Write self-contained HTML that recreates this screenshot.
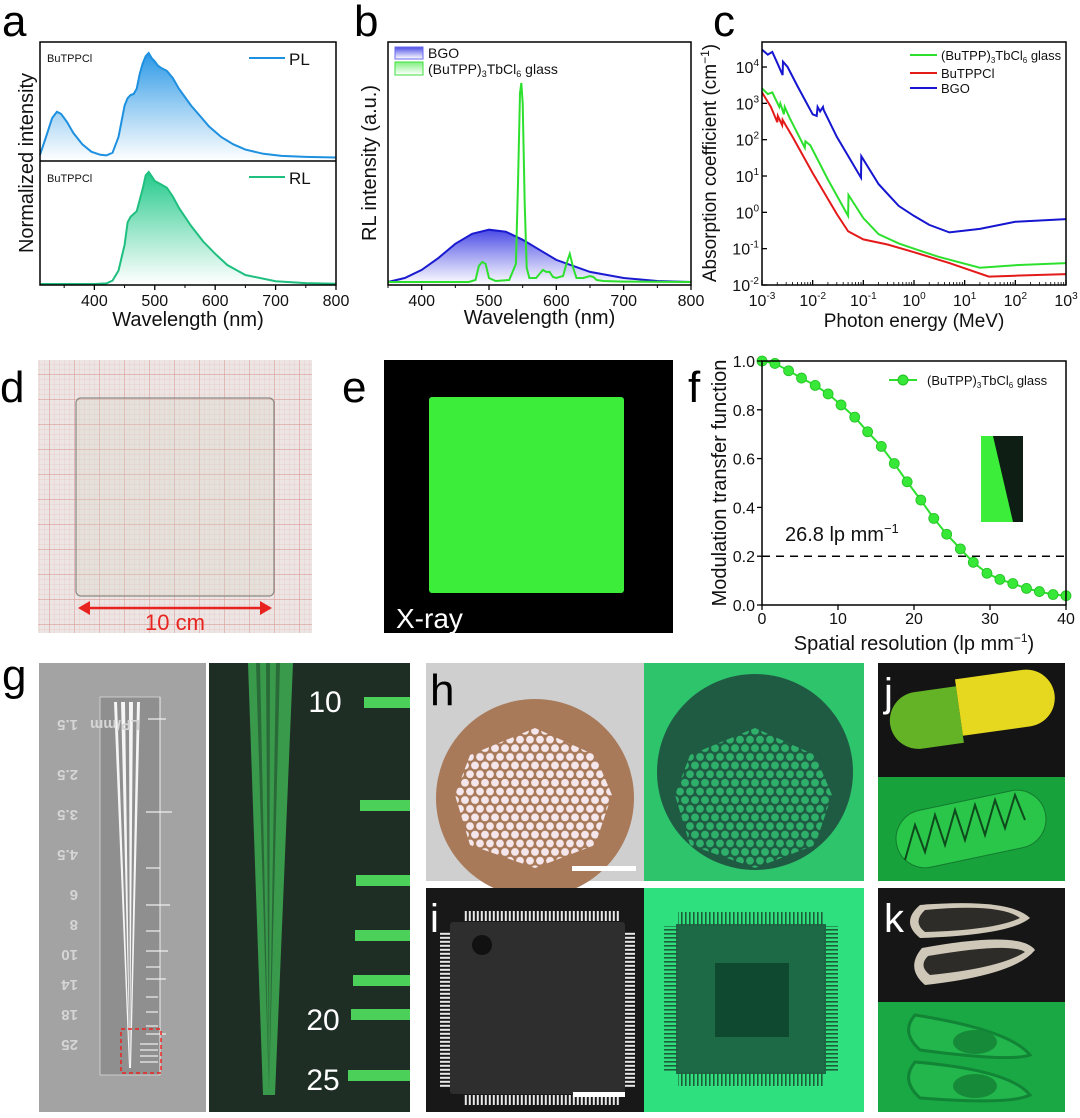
<!DOCTYPE html>
<html><head><meta charset="utf-8"><style>
html,body{margin:0;padding:0;background:#fff;}
svg{display:block;font-family:"Liberation Sans",Arial,sans-serif;}
</style></head><body>
<svg id="fig" width="1080" height="1118" viewBox="0 0 1080 1118" xmlns="http://www.w3.org/2000/svg">
<defs>
<linearGradient id="gBlue" x1="0" y1="0" x2="0" y2="1"><stop offset="0" stop-color="#2a98e6"/><stop offset="1" stop-color="#ffffff" stop-opacity="0.9"/></linearGradient>
<linearGradient id="gTeal" x1="0" y1="0" x2="0" y2="1"><stop offset="0" stop-color="#22c98a"/><stop offset="1" stop-color="#ffffff" stop-opacity="0.9"/></linearGradient>
<linearGradient id="gBGO" x1="0" y1="0" x2="0" y2="1"><stop offset="0" stop-color="#4a4ae6"/><stop offset="1" stop-color="#ffffff" stop-opacity="0.9"/></linearGradient>
<linearGradient id="gGlass" x1="0" y1="0" x2="0" y2="1"><stop offset="0" stop-color="#7ff07f"/><stop offset="1" stop-color="#ffffff" stop-opacity="0.9"/></linearGradient>
<pattern id="grid1" width="5" height="5" patternUnits="userSpaceOnUse"><path d="M5 0V5M0 5H5" stroke="#e3b8b8" stroke-width="0.5" fill="none"/></pattern>
<pattern id="grid2" width="25" height="25" patternUnits="userSpaceOnUse"><path d="M25 0V25M0 25H25" stroke="#d88a8a" stroke-width="0.9" fill="none"/></pattern>
<pattern id="holesW" width="10" height="17.3" patternUnits="userSpaceOnUse"><circle cx="5" cy="4.3" r="3.9" fill="#f4e6ea"/><circle cx="0" cy="13" r="3.9" fill="#f4e6ea"/><circle cx="10" cy="13" r="3.9" fill="#f4e6ea"/></pattern>
<pattern id="holesG" width="10" height="17.3" patternUnits="userSpaceOnUse"><circle cx="5" cy="4.3" r="3.9" fill="#2fb06a"/><circle cx="0" cy="13" r="3.9" fill="#2fb06a"/><circle cx="10" cy="13" r="3.9" fill="#2fb06a"/></pattern>
<pattern id="pinsH" width="4" height="10" patternUnits="userSpaceOnUse"><rect x="0.8" y="0" width="2" height="10" fill="#e8e8e8"/></pattern>
<pattern id="pinsV" width="10" height="4" patternUnits="userSpaceOnUse"><rect x="0" y="0.8" width="10" height="2" fill="#e8e8e8"/></pattern>
<pattern id="pinsHd" width="4" height="14" patternUnits="userSpaceOnUse"><rect x="1" y="0" width="1.6" height="14" fill="#1f5a3a"/></pattern>
<pattern id="pinsVd" width="14" height="4" patternUnits="userSpaceOnUse"><rect x="0" y="1" width="14" height="1.6" fill="#1f5a3a"/></pattern>
<clipPath id="clipHex"><polygon points="535,728 595,755 612,795 595,845 535,868 470,845 455,795 470,755"/></clipPath>
<clipPath id="clipHex2"><polygon points="755,728 815,755 832,795 815,845 755,868 690,845 675,795 690,755"/></clipPath>
</defs>

<!-- Panel letters -->
<text x="2" y="36" font-size="44">a</text>
<text x="354" y="36" font-size="44">b</text>
<text x="713" y="36" font-size="44">c</text>
<text x="0" y="402" font-size="44">d</text>
<text x="342" y="402" font-size="44">e</text>
<text x="688" y="402" font-size="44">f</text>
<text x="2" y="690" font-size="44">g</text>

<!-- Panel d: photo on graph paper -->
<g>
<rect x="38" y="360" width="274" height="273" fill="#ece5e3"/>
<rect x="38" y="360" width="274" height="273" fill="url(#grid1)"/>
<rect x="38" y="360" width="274" height="273" fill="url(#grid2)"/>
<rect x="76" y="398" width="198" height="198" rx="5" fill="#d8d3c8" fill-opacity="0.3" stroke="#8a8a85" stroke-width="1.2"/>
<line x1="84" y1="608" x2="266" y2="608" stroke="#e8231f" stroke-width="2.5"/>
<polygon points="78,608 90,601 90,615" fill="#e8231f"/>
<polygon points="272,608 260,601 260,615" fill="#e8231f"/>
<text x="175" y="630" font-size="22" fill="#e8231f" text-anchor="middle">10 cm</text>
</g>

<!-- Panel e -->
<g>
<rect x="384" y="360" width="289" height="273" fill="#000"/>
<rect x="429" y="397" width="195" height="196" rx="3" fill="#3cee3a"/>
<text x="396" y="628" font-size="28" fill="#fff">X-ray</text>
</g>

<!-- Panel g -->
<g>
<rect x="39" y="663" width="167" height="449" fill="#a3a3a3"/>
<rect x="100" y="697" width="60" height="378" fill="#8f8f8f" stroke="#d8d8d8" stroke-width="0.8"/>
<polygon points="114,702 140,702 131,1068 129,1068" fill="#f5f5f5"/>
<polygon points="117,702 121,702 130,1068" fill="#8f8f8f"/>
<polygon points="125,702 129,702 130,1068" fill="#8f8f8f"/>
<polygon points="133,702 137,702 130,1068" fill="#8f8f8f"/>
<line x1="160" y1="697" x2="160" y2="1075" stroke="#eee" stroke-width="1"/>
<g stroke="#eee" stroke-width="1.2">
<line x1="148" y1="719" x2="166" y2="719"/><line x1="146" y1="812" x2="172" y2="812"/><line x1="146" y1="868" x2="160" y2="868"/>
<line x1="146" y1="905" x2="170" y2="905"/><line x1="146" y1="931" x2="160" y2="931"/><line x1="146" y1="951" x2="168" y2="951"/>
<line x1="146" y1="967" x2="160" y2="967"/><line x1="146" y1="979" x2="166" y2="979"/><line x1="146" y1="997" x2="158" y2="997"/>
<line x1="146" y1="1012" x2="158" y2="1012"/><line x1="146" y1="1026" x2="158" y2="1026"/><line x1="146" y1="1034" x2="166" y2="1034"/>
<line x1="140" y1="1044" x2="158" y2="1044"/><line x1="140" y1="1050" x2="158" y2="1050"/><line x1="140" y1="1056" x2="158" y2="1056"/><line x1="140" y1="1062" x2="158" y2="1062"/>
</g>
<rect x="121" y="1029" width="40" height="44" fill="none" stroke="#e8231f" stroke-width="1.5" stroke-dasharray="4,3"/>
<g fill="#d5d5d5" font-size="15" font-weight="bold" transform="rotate(180 70 885)">
<text x="62" y="1050">1.5</text><text x="62" y="1000">2.5</text><text x="62" y="960">3.5</text><text x="62" y="920">4.5</text>
<text x="62" y="880">6</text><text x="62" y="850">8</text><text x="62" y="820">10</text><text x="62" y="790">14</text><text x="62" y="760">18</text><text x="62" y="730">25</text>
<text x="0" y="1050">LP/mm</text>
</g>
</g>
<g>
<rect x="209" y="663" width="201" height="449" fill="#1e2e24"/>
<polygon points="248,663 293,663 275,1095 263,1095" fill="#3a9a4c"/>
<polygon points="256,663 260,663 269,1095" fill="#2a6a38"/>
<polygon points="266,663 270,663 269,1095" fill="#2a6a38"/>
<polygon points="276,663 280,663 269,1095" fill="#2a6a38"/>
<g fill="#4bd05a">
<rect x="364" y="697" width="46" height="11"/><rect x="360" y="800" width="50" height="11"/><rect x="356" y="875" width="54" height="11"/>
<rect x="355" y="930" width="55" height="11"/><rect x="353" y="975" width="57" height="11"/><rect x="351" y="1009" width="59" height="11"/><rect x="348" y="1070" width="62" height="11"/>
</g>
<g fill="#fff" font-size="30" text-anchor="middle">
<text x="325" y="712">10</text><text x="323" y="1030">20</text><text x="323" y="1090">25</text>
</g>
</g>

<!-- Panel h -->
<g>
<rect x="426" y="663" width="218" height="218" fill="#cfcfcf"/>
<circle cx="535" cy="798" r="99" fill="#a87a5a"/>
<rect x="425" y="699" width="220" height="200" fill="url(#holesW)" clip-path="url(#clipHex)"/>
<rect x="572" y="866" width="64" height="5" fill="#fff"/>
<text x="430" y="705" font-size="44">h</text>
</g>
<g>
<rect x="644" y="663" width="220" height="218" fill="#2ec46c"/>
<ellipse cx="755" cy="772" rx="98" ry="98" fill="#1f5b43"/>
<rect x="645" y="699" width="220" height="200" fill="url(#holesG)" clip-path="url(#clipHex2)"/>
</g>

<!-- Panel i -->
<g>
<rect x="426" y="888" width="218" height="224" fill="#181818"/>
<rect x="450" y="922" width="175" height="172" rx="3" fill="#2e2e2e"/>
<rect x="464" y="911" width="156" height="10" fill="url(#pinsH)"/>
<rect x="464" y="1095" width="156" height="10" fill="url(#pinsH)"/>
<rect x="440" y="931" width="10" height="156" fill="url(#pinsV)"/>
<rect x="625" y="931" width="10" height="156" fill="url(#pinsV)"/>
<circle cx="482" cy="945" r="10" fill="#111"/>
<rect x="573" y="1092" width="52" height="5" fill="#fff"/>
<text x="430" y="932" font-size="40" fill="#fff">i</text>
</g>
<g>
<rect x="644" y="888" width="220" height="224" fill="#2ee07e"/>
<rect x="676" y="924" width="150" height="150" fill="#1d6a47"/>
<rect x="678" y="912" width="146" height="14" fill="url(#pinsHd)"/>
<rect x="678" y="1072" width="146" height="14" fill="url(#pinsHd)"/>
<rect x="664" y="926" width="14" height="146" fill="url(#pinsVd)"/>
<rect x="824" y="926" width="14" height="146" fill="url(#pinsVd)"/>
<rect x="715" y="963" width="74" height="74" fill="#0f4a30"/>
</g>

<!-- Panel j -->
<g>
<rect x="878" y="663" width="187" height="114" fill="#141414"/>
<path d="M918,686 H960 V743 H918 A28.5,28.5 0 0 1 918,686 Z" transform="rotate(-8 960 715)" fill="#64b226"/>
<path d="M960,679 H1028 A28.5,28.5 0 0 1 1028,736 H960 Z" transform="rotate(-8 960 715)" fill="#e6d81e"/>
<text x="884" y="706" font-size="40" fill="#fff">j</text>
</g>
<g>
<rect x="878" y="777" width="187" height="104" fill="#17a23c"/>
<rect x="895" y="800" width="152" height="58" rx="29" transform="rotate(-12 971 829)" fill="#2ac64a" stroke="#137a2e"/>
<polyline points="905,860 915,825 925,852 935,815 945,845 955,810 965,840 975,805 985,835 995,800 1005,828 1015,795 1025,820" fill="none" stroke="#0e4a1c" stroke-width="2"/>
</g>

<!-- Panel k -->
<g>
<rect x="878" y="888" width="187" height="114" fill="#161616"/>
<path d="M920,905 Q1010,898 1030,918 Q1010,935 920,938 Q900,922 920,905 Z" fill="#cfc8b8"/>
<path d="M925,910 Q1000,903 1020,918 Q995,930 925,932 Q912,922 925,910 Z" fill="#2e2c28"/>
<path d="M922,948 Q1020,930 1035,950 Q1015,975 925,985 Q905,968 922,948 Z" fill="#cfc8b8"/>
<path d="M928,956 Q1010,942 1025,952 Q1000,968 930,975 Q918,966 928,956 Z" fill="#2e2c28"/>
<text x="884" y="932" font-size="40" fill="#fff">k</text>
</g>
<g>
<rect x="878" y="1002" width="187" height="110" fill="#1aa844"/>
<path d="M915,1015 Q1010,1030 1030,1055 Q1010,1062 920,1050 Q900,1032 915,1015 Z" fill="#22b64c" stroke="#128436" stroke-width="3"/>
<path d="M915,1062 Q1010,1070 1030,1095 Q1010,1105 920,1098 Q900,1080 915,1062 Z" fill="#22b64c" stroke="#128436" stroke-width="3"/>
<ellipse cx="975" cy="1042" rx="22" ry="12" fill="#168a38"/>
<ellipse cx="975" cy="1086" rx="22" ry="12" fill="#168a38"/>
</g>

<g id="charts"></g>
</svg>
<script>
// ---- Panel a data ----
const plWl  = [310,320,330,338,345,355,365,380,395,410,420,430,440,450,455,460,465,470,475,480,485,490,495,500,505,510,520,530,540,550,560,575,590,610,630,650,680,710,750,800];
const plVal = [0.03,0.2,0.38,0.44,0.42,0.34,0.24,0.13,0.06,0.03,0.025,0.05,0.2,0.5,0.57,0.6,0.61,0.66,0.8,0.9,0.97,1.0,0.95,0.92,0.88,0.86,0.83,0.76,0.66,0.58,0.5,0.4,0.3,0.2,0.13,0.08,0.04,0.02,0.01,0.005];
const rlWl  = [310,400,420,430,440,450,455,460,470,480,485,490,495,500,510,520,530,540,560,580,600,620,650,700,750,800];
const rlVal = [0,0,0.005,0.03,0.12,0.35,0.55,0.6,0.65,0.85,0.97,1.0,0.96,0.92,0.89,0.86,0.78,0.68,0.52,0.38,0.27,0.17,0.08,0.025,0.008,0.003];
const aTicks = [400,500,600,700,800];
// ---- Panel b data ----
const bgoWl  = [350,375,400,425,450,475,500,525,550,575,600,650,700,750,800];
const bgoVal = [0.01,0.03,0.07,0.13,0.2,0.25,0.27,0.26,0.22,0.17,0.12,0.06,0.03,0.015,0.01];
const glassWl  = [350,470,480,485,490,495,500,510,530,540,543,546,548,550,553,556,560,570,580,585,590,595,600,610,615,620,625,630,640,650,655,660,670,700,800];
const glassVal = [0.01,0.01,0.02,0.09,0.11,0.1,0.03,0.015,0.02,0.1,0.5,0.95,1.0,0.9,0.4,0.08,0.03,0.03,0.07,0.06,0.06,0.035,0.03,0.04,0.1,0.15,0.08,0.03,0.03,0.04,0.035,0.02,0.015,0.012,0.01];
const bTicks = [400,500,600,700,800];
// ---- Panel c data (MeV, cm^-1) ----
const bgoE = [1e-3,1.3e-3,1.6e-3,2.0e-3,2.55e-3,2.6e-3,3.2e-3,5e-3,1.0e-2,1.2e-2,1.25e-2,1.4e-2,1.6e-2,1.65e-2,3e-2,9.0e-2,9.1e-2,0.2,0.5,1,2,5,20,100,1000];
const bgoA = [3e4,2.2e4,2.6e4,1.3e4,6e3,1.4e4,1e4,3e3,5e2,4.5e2,8e2,6e2,8e2,6.5e2,1.2e2,9,35,6,1.5,0.8,0.45,0.28,0.35,0.55,0.65];
const glE = [1e-3,1.3e-3,1.6e-3,2.2e-3,2.3e-3,2.7e-3,2.8e-3,3.5e-3,7e-3,7.2e-3,9e-3,2e-2,5e-2,5.1e-2,0.1,0.2,0.5,1,3,20,100,1000];
const glA = [2.6e3,1.8e3,2e3,8e2,1e3,5e2,8e2,4e2,6e1,9e1,7e1,8,0.8,3,0.7,0.25,0.14,0.1,0.06,0.03,0.035,0.04];
const buE = [1e-3,1.5e-3,2.0e-3,2.05e-3,2.5e-3,2.55e-3,4e-3,1e-2,3e-2,5e-2,0.1,0.3,1,5,30,100,1000];
const buA = [2e3,8e2,3e2,4.5e2,2.5e2,3.5e2,1.2e2,1.2e1,0.9,0.3,0.18,0.13,0.08,0.04,0.017,0.018,0.02];
const cXTicks = [-3,-2,-1,0,1,2,3];
const cYTicks = [-2,-1,0,1,2,3,4];
// ---- Panel f data ----
const mtfX = [0,1.7,3.5,5.2,7.0,8.7,10.4,12.2,13.9,15.7,17.4,19.1,20.9,22.6,24.3,26.1,27.8,29.6,31.3,33.0,34.8,36.5,38.3,40];
const mtfY = [1.0,0.99,0.96,0.93,0.90,0.865,0.82,0.77,0.71,0.65,0.58,0.505,0.43,0.355,0.29,0.23,0.175,0.13,0.105,0.088,0.068,0.055,0.043,0.038];
const fXTicks = [0,10,20,30,40];
const fYTicks = [0,0.2,0.4,0.6,0.8,1.0];

const NS = "http://www.w3.org/2000/svg";
const root = document.getElementById('charts');
function mk(tag, attrs, parent){const e=document.createElementNS(NS,tag);for(const k in attrs)e.setAttribute(k,attrs[k]);(parent||root).appendChild(e);return e;}
function txt(s,x,y,size,anchor,parent){const t=mk('text',{x:x,y:y,'font-size':size,'text-anchor':anchor||'middle',fill:'#111'},parent);t.textContent=s;return t;}
function pathD(xs,ys,fx,fy){return xs.map((v,i)=>(i?'L':'M')+fx(v).toFixed(1)+','+fy(ys[i]).toFixed(1)).join('');}

// ===== Panel a =====
(function(){
  const L=40,R=336,T=42,B=285,M=161;
  const x=w=>L+(w-310)/(800-310)*(R-L);
  const yPL=v=>158-v*105, yRL=v=>284-v*112;
  const g=mk('g',{});
  
  
  const f1=mk('path',{d:pathD(plWl,plVal,x,yPL)+'L'+x(800)+','+M+'L'+x(310)+','+M+'Z',fill:'url(#gBlue)'},g);
  
  
  const l1=mk('path',{d:pathD(plWl,plVal,x,yPL),fill:'none',stroke:'#1e90e0','stroke-width':2},g);
  
  
  const f2=mk('path',{d:pathD(rlWl,rlVal,x,yRL)+'L'+x(800)+','+B+'L'+x(310)+','+B+'Z',fill:'url(#gTeal)'},g);
  
  
  const l2=mk('path',{d:pathD(rlWl,rlVal,x,yRL),fill:'none',stroke:'#1fbf80','stroke-width':2},g);
  
  
  mk('rect',{x:L,y:T,width:R-L,height:B-T,fill:'none',stroke:'#000','stroke-width':1.5},g);
  mk('line',{x1:L,y1:M,x2:R,y2:M,stroke:'#000','stroke-width':1.5},g);
  aTicks.forEach(t=>{mk('line',{x1:x(t),y1:B,x2:x(t),y2:B+5,stroke:'#000','stroke-width':1.3},g);
    const tl=txt(String(t),x(t),306,16,'middle',g);
    
    });
  [350,450,550,650,750].forEach(t=>mk('line',{x1:x(t),y1:B,x2:x(t),y2:B+3,stroke:'#000'},g));
  const xt=txt('Wavelength (nm)',(L+R)/2,326,20,'middle',g);
  
  
  const yt=txt('Normalized intensity',0,0,20,'middle',g);
  yt.setAttribute('transform','translate(33,163) rotate(-90)');
  
  
  txt('BuTPPCl',47,62,11,'start',g);
  txt('BuTPPCl',47,182,11,'start',g);
  mk('line',{x1:249,y1:58,x2:285,y2:58,stroke:'#1e90e0','stroke-width':2},g);
  const p=txt('PL',289,65,17,'start',g);
  
  
  mk('line',{x1:249,y1:177,x2:285,y2:177,stroke:'#1fbf80','stroke-width':2},g);
  const r=txt('RL',289,184,17,'start',g);
  
  
})();

// ===== Panel b =====
(function(){
  const L=388,R=691,T=42,B=285;
  const x=w=>L+(w-350)/(800-350)*(R-L);
  const y=v=>284-v*201;
  const g=mk('g',{});
  
  
  const f=mk('path',{d:pathD(bgoWl,bgoVal,x,y)+'L'+x(800)+','+B+'L'+x(350)+','+B+'Z',fill:'url(#gBGO)'},g);
  
  
  const lb=mk('path',{d:pathD(bgoWl,bgoVal,x,y),fill:'none',stroke:'#1a1ad0','stroke-width':2},g);
  
  
  const lg=mk('path',{d:pathD(glassWl,glassVal,x,y),fill:'none',stroke:'#2ee02e','stroke-width':2},g);
  
  
  mk('rect',{x:L,y:T,width:R-L,height:B-T,fill:'none',stroke:'#000','stroke-width':1.5},g);
  bTicks.forEach(t=>{mk('line',{x1:x(t),y1:B,x2:x(t),y2:B+5,stroke:'#000','stroke-width':1.3},g);
    const tl=txt(String(t),x(t),306,16,'middle',g);
    
    });
  [350,450,550,650,750].forEach(t=>mk('line',{x1:x(t),y1:B,x2:x(t),y2:B+3,stroke:'#000'},g));
  const xt=txt('Wavelength (nm)',(L+R)/2,324,20,'middle',g);
  
  
  const yt=txt('RL intensity (a.u.)',0,0,20,'middle',g);
  yt.setAttribute('transform','translate(376,163) rotate(-90)');
  
  
  mk('rect',{x:395,y:47,width:28,height:12,fill:'url(#gBGO)',stroke:'#6a6aee'},g);
  mk('rect',{x:395,y:62,width:28,height:13,fill:'url(#gGlass)',stroke:'#3ee03e'},g);
  const e1=txt('BGO',428,58,14,'start',g);
  
  
  const e2=mk('text',{x:428,y:74,'font-size':14,fill:'#111'},g);
  
  
  e2.innerHTML='(BuTPP)<tspan font-size="9" dy="3">3</tspan><tspan dy="-3">TbCl</tspan><tspan font-size="9" dy="3">6</tspan><tspan dy="-3"> glass</tspan>';
})();

// ===== Panel c =====
(function(){
  const L=762,R=1066,T=42,B=285;
  const x=e=>L+(Math.log10(e)+3)/6*(R-L);
  const y=a=>285-(Math.log10(a)+2)*36.33;
  const xl=l=>L+(l+3)/6*(R-L), yl=l=>285-(l+2)*36.33;
  const g=mk('g',{});
  
  
  [[bgoE,bgoA,'#1616d0','bgo-absorption-line'],[glE,glA,'#2ee02e','glass-absorption-line'],[buE,buA,'#e41a1a','butppcl-absorption-line']].forEach(s=>{
    const p=mk('path',{d:pathD(s[0],s[1],x,y),fill:'none',stroke:s[2],'stroke-width':2},g);
    
    
  });
  mk('rect',{x:L,y:T,width:R-L,height:B-T,fill:'none',stroke:'#000','stroke-width':1.5},g);
  cXTicks.forEach(l=>{mk('line',{x1:xl(l),y1:B,x2:xl(l),y2:B-5,stroke:'#000','stroke-width':1.3},g);
    for(let k=2;k<10&&l<3;k++){const xx=xl(l+Math.log10(k));mk('line',{x1:xx,y1:B,x2:xx,y2:B-3,stroke:'#000','stroke-width':0.8},g);}
    const t=mk('text',{x:xl(l),y:306,'font-size':16,'text-anchor':'middle',fill:'#111'},g);
    
    
    t.innerHTML='10<tspan font-size="10" dy="-7">'+l+'</tspan>';});
  cYTicks.forEach(l=>{mk('line',{x1:L,y1:yl(l),x2:L+5,y2:yl(l),stroke:'#000','stroke-width':1.3},g);
    const t=mk('text',{x:L-3,y:yl(l)+6,'font-size':16,'text-anchor':'end',fill:'#111'},g);
    
    
    t.innerHTML='10<tspan font-size="10" dy="-7">'+l+'</tspan>';});
  const xt=txt('Photon energy (MeV)',(L+R)/2,327,19,'middle',g);
  
  
  const yt=mk('text',{'font-size':19,'text-anchor':'middle',fill:'#111',transform:'translate(716,163) rotate(-90)'},g);
  
  
  yt.innerHTML='Absorption coefficient (cm<tspan font-size="12" dy="-7">−1</tspan><tspan dy="7">)</tspan>';
  const leg=[['#2ee02e',55,'(BuTPP)<tspan font-size="8" dy="3">3</tspan><tspan dy="-3">TbCl</tspan><tspan font-size="8" dy="3">6</tspan><tspan dy="-3"> glass</tspan>','legend-glass-c'],['#e41a1a',73,'BuTPPCl','legend-butppcl'],['#1616d0',88,'BGO','legend-bgo-c']];
  leg.forEach(e=>{mk('line',{x1:910,y1:e[1],x2:937,y2:e[1],stroke:e[0],'stroke-width':2},g);
    const t=mk('text',{x:941,y:e[1]+5,'font-size':13,fill:'#111'},g);
    
    
    t.innerHTML=e[2];});
})();

// ===== Panel f =====
(function(){
  const L=762,R=1066,T=361,B=605;
  const x=v=>L+v/40*(R-L), y=v=>B-v*(B-T);
  const g=mk('g',{});
  
  
  mk('line',{x1:L,y1:y(0.2),x2:R,y2:y(0.2),stroke:'#000','stroke-width':1.5,'stroke-dasharray':'8,6'},g);
  const ln=mk('path',{d:pathD(mtfX,mtfY,x,y),fill:'none',stroke:'#2ee02e','stroke-width':2},g);
  
  
  mtfX.forEach((v,i)=>{const c=mk('circle',{cx:x(v),cy:y(mtfY[i]),r:5,fill:'#38e838',stroke:'#22c022','stroke-width':0.8},g);
    
    });
  mk('rect',{x:L,y:T,width:R-L,height:B-T,fill:'none',stroke:'#000','stroke-width':1.5},g);
  fXTicks.forEach(t=>{mk('line',{x1:x(t),y1:B,x2:x(t),y2:B+5,stroke:'#000','stroke-width':1.3},g);
    const tl=txt(String(t),x(t),624,16,'middle',g);
    
    });
  fYTicks.forEach(t=>{mk('line',{x1:L,y1:y(t),x2:L-5,y2:y(t),stroke:'#000','stroke-width':1.3},g);
    const tl=txt(t.toFixed(1),L-7,y(t)+6,16,'end',g);
    
    });
  const xt=mk('text',{x:(L+R)/2,y:650,'font-size':20,'text-anchor':'middle',fill:'#111'},g);
  
  
  xt.innerHTML='Spatial resolution (lp mm<tspan font-size="12" dy="-8">−1</tspan><tspan dy="8">)</tspan>';
  const yt=txt('Modulation transfer function',0,0,20,'middle',g);
  yt.setAttribute('transform','translate(726,483) rotate(-90)');
  
  
  const an=mk('text',{x:785,y:541,'font-size':20,fill:'#111'},g);
  
  
  an.innerHTML='26.8 lp mm<tspan font-size="13" dy="-8">−1</tspan>';
  mk('line',{x1:889,y1:380,x2:917,y2:380,stroke:'#2ee02e','stroke-width':2},g);
  mk('circle',{cx:903,cy:380,r:5,fill:'#38e838',stroke:'#22c022'},g);
  const lt=mk('text',{x:927,y:385,'font-size':13,fill:'#111'},g);
  
  
  lt.innerHTML='(BuTPP)<tspan font-size="8" dy="3">3</tspan><tspan dy="-3">TbCl</tspan><tspan font-size="8" dy="3">6</tspan><tspan dy="-3"> glass</tspan>';
  const inset=mk('g',{},g);
  
  
  mk('rect',{x:981,y:436,width:42,height:86,fill:'#0e1e14'},inset);
  mk('polygon',{points:'981,436 993,436 1013,522 981,522',fill:'#3cee3a'},inset);
})();
</script>
</body></html>
